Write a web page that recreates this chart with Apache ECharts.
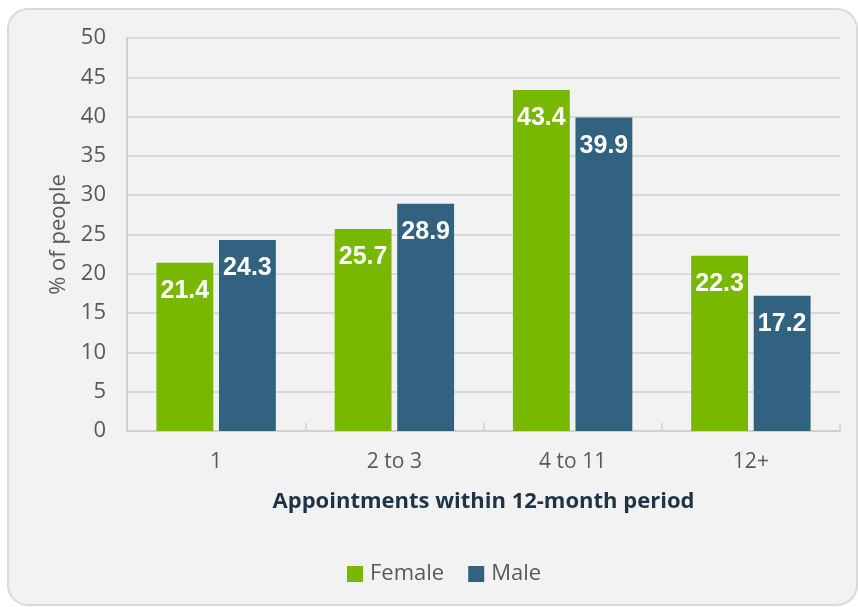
<!DOCTYPE html>
<html>
<head>
<meta charset="utf-8">
<script src="https://cdn.jsdelivr.net/npm/echarts@6/dist/echarts.min.js"></script>
<style>
html,body{margin:0;padding:0;background:#ffffff;}
#chart{width:858px;height:607px;}
</style>
</head>
<body>
<div id="chart"></div>
<script>
const categories = ['1', '2 to 3', '4 to 11', '12+'];
const femaleValues = [21.4, 25.7, 43.4, 22.3];
const maleValues = [24.3, 28.9, 39.9, 17.2];
const seriesNames = ['Female', 'Male'];
const xAxisTitle = 'Appointments within 12-month period';
const yAxisTitle = '% of people';

const chart = echarts.init(document.getElementById('chart'), null, {renderer: 'canvas'});
const labelStyle = {
  show: true,
  position: 'insideTop',
  distance: 16,
  color: '#ffffff',
  fontFamily: 'Liberation Sans, Arial, sans-serif',
  fontWeight: 'bold',
  fontSize: 25
};
chart.setOption({
  animation: false,
  graphic: [{
    type: 'rect',
    left: 7, top: 8,
    shape: {width: 849, height: 596, r: 20},
    style: {fill: '#f2f2f2', stroke: '#d9d9d9', lineWidth: 2},
    z: -10
  }],
  grid: {left: 127, right: 18, top: 38, bottom: 176},
  legend: {
    data: seriesNames,
    top: 558,
    left: 342,
    itemWidth: 16,
    itemHeight: 16,
    itemGap: 24,
    icon: 'rect',
    textStyle: {fontFamily: 'Open Sans, sans-serif', fontSize: 22, color: '#595959', padding: [0, 0, 0, 2]}
  },
  xAxis: {
    type: 'category',
    data: categories,
    name: xAxisTitle,
    nameLocation: 'middle',
    nameGap: 60,
    nameTextStyle: {fontFamily: 'Open Sans, sans-serif', fontWeight: 'bold', fontSize: 22, color: '#1f3347'},
    axisLine: {lineStyle: {color: '#d0d0d0', width: 2}},
    axisTick: {show: true, inside: true, length: 8, lineStyle: {color: '#d0d0d0', width: 1.5}},
    axisLabel: {fontFamily: 'Open Sans, sans-serif', fontSize: 21, color: '#595959', margin: 21}
  },
  yAxis: {
    type: 'value',
    min: 0, max: 50, interval: 5,
    name: yAxisTitle,
    nameLocation: 'middle',
    nameGap: 57,
    nameTextStyle: {fontFamily: 'Open Sans, sans-serif', fontSize: 22, color: '#595959'},
    axisLine: {show: true, lineStyle: {color: '#d0d0d0', width: 2}},
    axisTick: {show: false},
    splitLine: {lineStyle: {color: '#d9d9d9', width: 2}},
    axisLabel: {fontFamily: 'Open Sans, sans-serif', fontSize: 22, color: '#595959', margin: 21}
  },
  series: [
    {name: seriesNames[0], type: 'bar', data: femaleValues, barGap: '10%', barCategoryGap: '33%',
     itemStyle: {color: '#78b800'}, label: labelStyle},
    {name: seriesNames[1], type: 'bar', data: maleValues,
     itemStyle: {color: '#31627f'}, label: labelStyle}
  ]
});
</script>
</body>
</html>
